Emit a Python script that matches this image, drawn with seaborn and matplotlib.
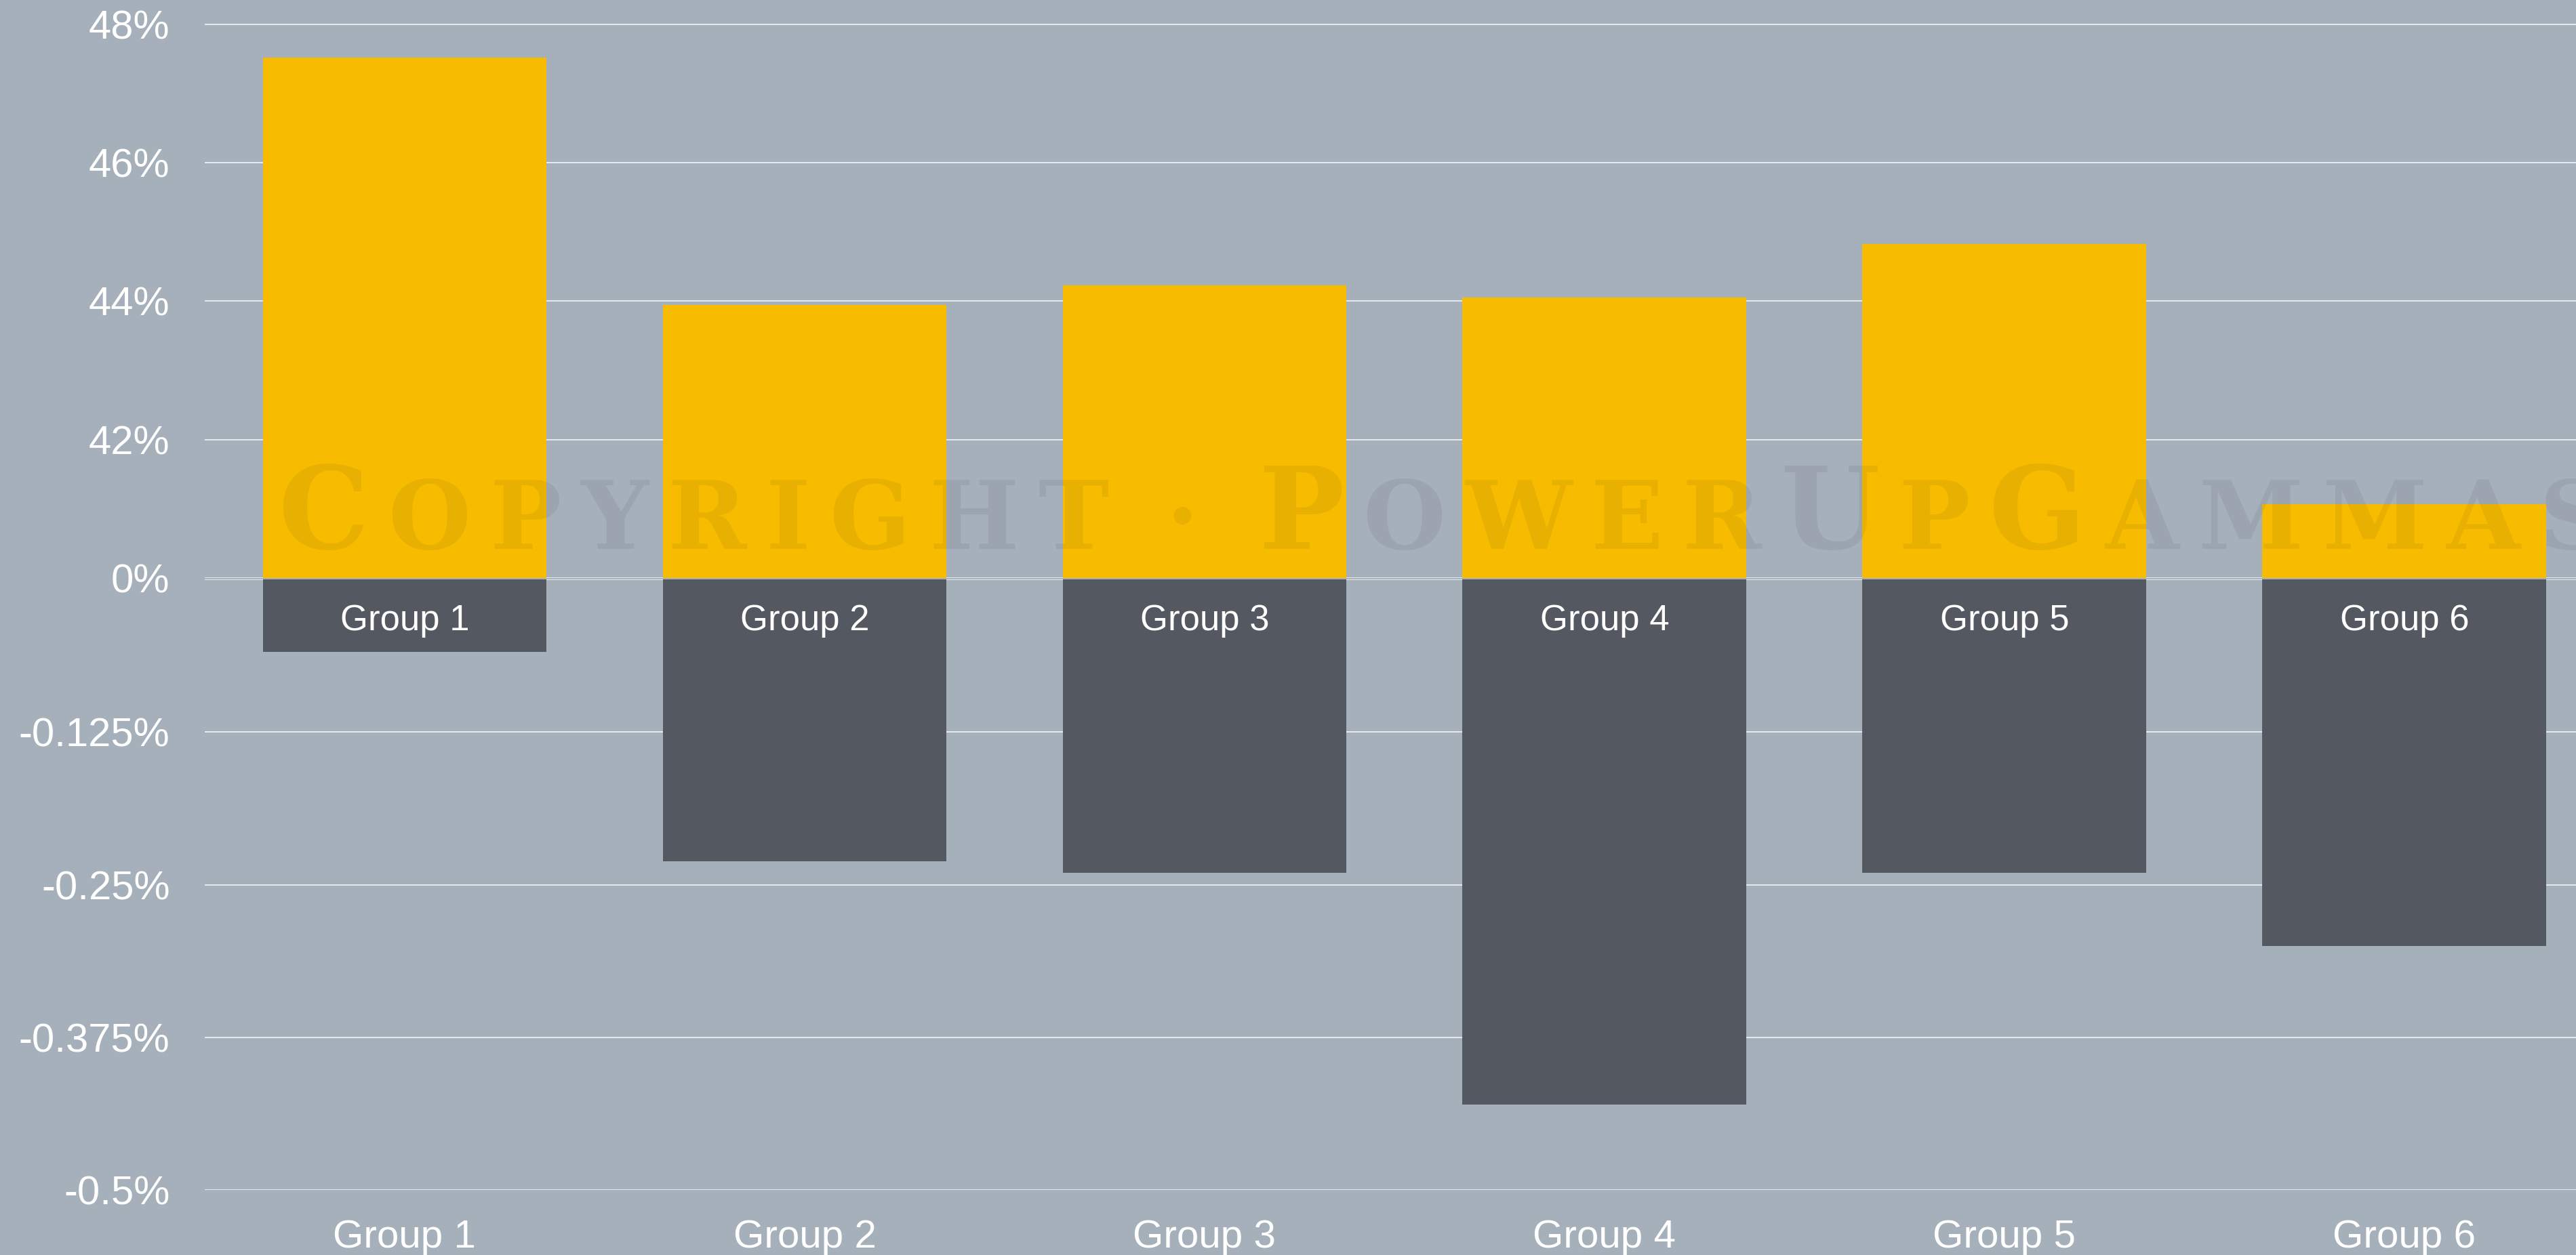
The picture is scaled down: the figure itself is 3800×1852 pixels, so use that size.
import matplotlib
matplotlib.use("Agg")
import matplotlib.pyplot as plt
import seaborn as sns
import pandas as pd

# ---- data ----
groups = ["Group 1", "Group 2", "Group 3", "Group 4", "Group 5", "Group 6"]
upper_values = [47.52, 43.95, 44.23, 44.05, 44.83, 41.07]        # upper panel (%)
lower_values = [-0.059, -0.231, -0.240, -0.430, -0.240, -0.300]  # lower panel (%)
upper_ticks = [40, 42, 44, 46, 48]
upper_tick_labels = ["0%", "42%", "44%", "46%", "48%"]
lower_ticks = [0, -0.125, -0.25, -0.375, -0.5]
lower_tick_labels = ["", "-0.125%", "-0.25%", "-0.375%", "-0.5%"]
watermark = [("C", True), ("O", False), ("P", False), ("Y", False), ("R", False),
             ("I", False), ("G", False), ("H", False), ("T", False), ("·", False),
             ("P", True), ("O", False), ("W", False), ("E", False), ("R", False),
             ("U", True), ("P", False), ("G", True), ("A", False), ("M", False),
             ("M", False), ("A", False), ("S", False)]

BG = "#a6b0ba"
YELLOW = "#f7bb00"
DARK = "#535861"
GRID = "#e4e8ec"

sns.set_style("white", {"axes.facecolor": BG, "figure.facecolor": BG})
plt.rcParams["font.family"] = ["Liberation Sans", "DejaVu Sans"]

W, H = 3800, 1852
fig = plt.figure(figsize=(W / 100, H / 100), dpi=100, facecolor=BG)

left = 302 / W
width = 1 - left
top_bottom_px = 853.3
low_top_px = 855.3
low_bottom_px = 1756

ax_top = fig.add_axes([left, 1 - top_bottom_px / H, width, top_bottom_px / H])
ax_low = fig.add_axes([left, 1 - low_bottom_px / H, width, (low_bottom_px - low_top_px) / H])

df = pd.DataFrame({"group": groups, "upper": upper_values, "lower": lower_values})

sns.barplot(data=df, x="group", y="upper", ax=ax_top, color=YELLOW, saturation=1,
            width=0.71, linewidth=0, zorder=2)
sns.barplot(data=df, x="group", y="lower", ax=ax_low, color=DARK, saturation=1,
            width=0.71, linewidth=0, zorder=2)

for ax in (ax_top, ax_low):
    ax.set_facecolor(BG)
    ax.set_xlim(-0.5, 5.429)
    ax.set_xlabel("")
    ax.set_ylabel("")
    for s in ax.spines.values():
        s.set_visible(False)
    ax.grid(axis="y", color=GRID, linewidth=1.45, zorder=0)
    ax.grid(axis="x", visible=False)
    ax.set_axisbelow(True)
    ax.tick_params(axis="both", length=0, colors="white")

ax_top.set_ylim(40, 48.349)
ax_top.set_yticks(upper_ticks)
ax_top.set_yticklabels(upper_tick_labels, fontsize=43, color="white")
ax_top.set_xticks([])
ax_top.tick_params(axis="y", pad=37)

ax_low.set_ylim(-0.5, 0)
ax_low.set_yticks(lower_ticks)
ax_low.set_yticklabels(lower_tick_labels, fontsize=43, color="white")
ax_low.tick_params(axis="y", pad=37)
ax_low.set_xticks(range(len(groups)))
ax_low.set_xticklabels(groups, fontsize=42, color="white")
ax_low.tick_params(axis="x", pad=31)

# labels inside dark bars
for i, g in enumerate(groups):
    ax_low.annotate(g, xy=(i, 0), xytext=(0, -54), textcoords="offset points",
                    ha="center", va="baseline", fontsize=38, color="white", zorder=5)

# watermark (small caps, letter-spaced)
renderer = fig.canvas.get_renderer()
x = 411.0
base_y = 810.0
track = 28.0
for ch, big in watermark:
    if ch == "·":
        x += 56
    t = fig.text(x / W, 1 - base_y / H, ch, fontsize=121 if big else 101,
                 family="DejaVu Serif", weight="bold", color=(0, 0, 0, 0.06),
                 ha="left", va="baseline", zorder=10)
    bb = t.get_window_extent(renderer)
    x = bb.x1 + track
    if ch == "·":
        x += 60

fig.savefig("out.png", dpi=100, facecolor=BG)
